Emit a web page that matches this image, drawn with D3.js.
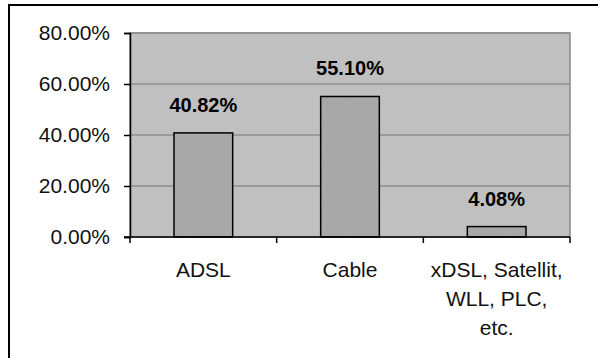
<!DOCTYPE html>
<html>
<head>
<meta charset="utf-8">
<script src="https://cdn.jsdelivr.net/npm/d3@7"></script>
<style>
  body { margin: 0; background: #fff; }
  svg { display: block; font-family: Arial, "Liberation Sans", sans-serif; }
</style>
</head>
<body>
<div id="body"></div>
<script>
// chart data
let categories = ["ADSL", "Cable", "xDSL, Satellit, WLL, PLC, etc."];
let shares = [0.4082, 0.5510, 0.0408];
let yTicks = [0, 0.2, 0.4, 0.6, 0.8];

let width = 598,
  height = 358;
let margin = { top: 33, right: 28, bottom: 121, left: 130 };

let svg = d3
  .select("#body")
  .append("svg")
  .attr("width", width)
  .attr("height", height);

// dotted fill for the bars
let defs = svg.append("defs");
let pat = defs
  .append("pattern")
  .attr("id", "dots")
  .attr("width", 10)
  .attr("height", 10)
  .attr("patternUnits", "userSpaceOnUse");
pat.append("rect").attr("width", 10).attr("height", 10).attr("fill", "#a8a8a8");
pat.append("rect").attr("x", 2).attr("y", 3).attr("width", 1).attr("height", 1).attr("fill", "#9a9a9a");
pat.append("rect").attr("x", 7).attr("y", 8).attr("width", 1).attr("height", 1).attr("fill", "#9a9a9a");

// outer frame
svg
  .append("rect")
  .attr("x", 9)
  .attr("y", 5)
  .attr("width", width + 20)
  .attr("height", height + 20)
  .attr("fill", "none")
  .attr("stroke", "#000")
  .attr("stroke-width", 2);

let x = d3
  .scaleBand()
  .domain(categories)
  .range([margin.left, width - margin.right])
  .paddingInner(0.6)
  .paddingOuter(0.3);

let y = d3
  .scaleLinear()
  .domain([0, 0.8])
  .range([height - margin.bottom, margin.top]);

// plot background
svg
  .append("rect")
  .attr("x", margin.left)
  .attr("y", y(0.8))
  .attr("width", width - margin.right - margin.left)
  .attr("height", y(0) - y(0.8))
  .attr("fill", "#c0c0c0")
  .attr("stroke", "#8a8a8a")
  .attr("stroke-width", 1.5);

// gridlines
svg
  .selectAll(".grid")
  .data(yTicks.filter((d) => d > 0))
  .enter()
  .append("line")
  .attr("class", "grid")
  .attr("x1", margin.left)
  .attr("x2", width - margin.right)
  .attr("y1", (d) => y(d))
  .attr("y2", (d) => y(d))
  .attr("stroke", "#8f8f8f")
  .attr("stroke-width", 1.5);

// bars
svg
  .selectAll(".bar")
  .data(shares)
  .enter()
  .append("rect")
  .attr("class", "bar")
  .attr("x", (d, i) => x(categories[i]))
  .attr("y", (d) => y(d))
  .attr("width", x.bandwidth())
  .attr("height", (d) => y(0) - y(d))
  .attr("fill", "url(#dots)")
  .attr("stroke", "#000")
  .attr("stroke-width", 1.5);

// value labels
svg
  .selectAll(".val")
  .data(shares)
  .enter()
  .append("text")
  .attr("class", "val")
  .attr("x", (d, i) => x(categories[i]) + x.bandwidth() / 2)
  .attr("y", (d) => y(d) - 21)
  .attr("text-anchor", "middle")
  .style("font-size", "20px")
  .style("font-weight", "bold")
  .attr("fill", "#000")
  .text((d) => d3.format(".2%")(d));

// y axis
let yAxis = svg
  .append("g")
  .attr("transform", "translate(" + margin.left + ",0)")
  .call(
    d3
      .axisLeft(y)
      .tickValues(yTicks)
      .tickSize(6)
      .tickPadding(14)
      .tickFormat(d3.format(".2%"))
  );
yAxis.select(".domain").attr("stroke", "#000").attr("stroke-width", 1.5);
yAxis.selectAll("line").attr("stroke", "#000").attr("stroke-width", 1.5);
yAxis
  .selectAll("text")
  .style("font-size", "21px")
  .style("font-family", "Arial, 'Liberation Sans', sans-serif")
  .attr("fill", "#111");

// x axis, ticks sit between categories
let xBase = d3
  .scaleBand()
  .domain(categories)
  .range([margin.left, width - margin.right]);
let bounds = [margin.left].concat(categories.map((c) => xBase(c) + xBase.step()));

svg
  .append("line")
  .attr("x1", margin.left - 6)
  .attr("x2", width - margin.right)
  .attr("y1", y(0))
  .attr("y2", y(0))
  .attr("stroke", "#000")
  .attr("stroke-width", 1.5);

svg
  .selectAll(".xtick")
  .data(bounds)
  .enter()
  .append("line")
  .attr("class", "xtick")
  .attr("x1", (d) => d)
  .attr("x2", (d) => d)
  .attr("y1", y(0))
  .attr("y2", y(0) + 6)
  .attr("stroke", "#000")
  .attr("stroke-width", 1.5);

let xLabels = svg
  .selectAll(".xlab")
  .data(categories)
  .enter()
  .append("text")
  .attr("class", "xlab")
  .attr("x", (d) => xBase(d) + xBase.bandwidth() / 2)
  .attr("y", y(0) + 40)
  .attr("text-anchor", "middle")
  .style("font-size", "21px")
  .attr("fill", "#111")
  .text((d) => d);

// wrap long category names into lines
function wrap(sel, maxWidth) {
  sel.each(function() {
    let t = d3.select(this);
    let words = t.text().split(" ");
    let cx = t.attr("x");
    t.text(null);
    let line = [];
    let ts = t.append("tspan").attr("x", cx);
    words.forEach((w) => {
      line.push(w);
      ts.text(line.join(" "));
      if (ts.node().getComputedTextLength() > maxWidth && line.length > 1) {
        line.pop();
        ts.text(line.join(" "));
        line = [w];
        ts = t
          .append("tspan")
          .attr("x", cx)
          .attr("dy", 29)
          .text(w);
      }
    });
  });
}
xLabels.call(wrap, 135);
</script>
</body>
</html>
